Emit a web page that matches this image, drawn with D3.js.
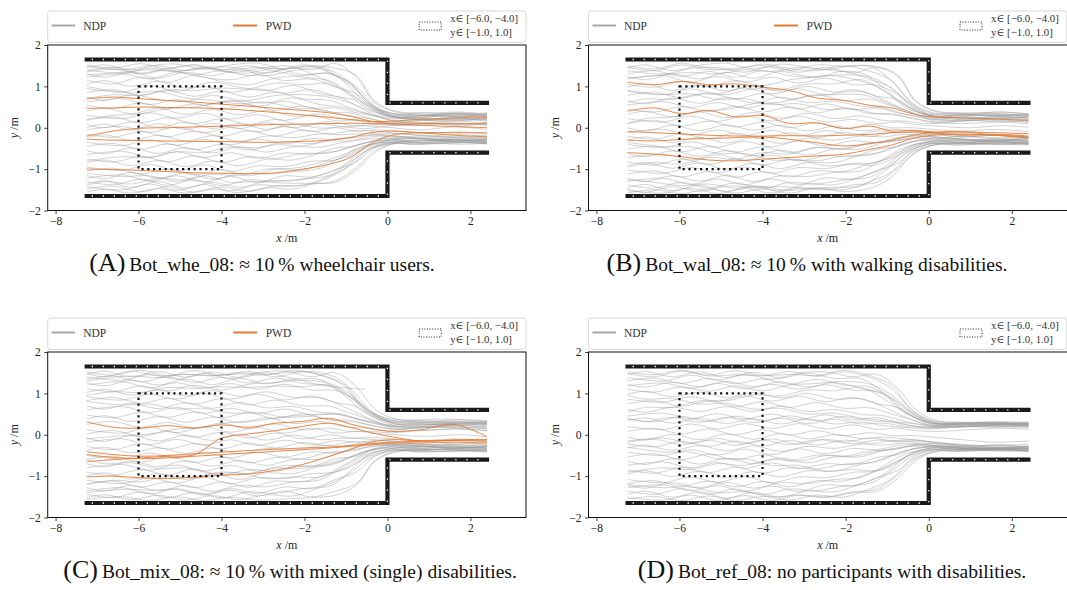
<!DOCTYPE html>
<html>
<head>
<meta charset="utf-8">
<script src="https://cdn.jsdelivr.net/npm/d3@7"></script>
<style>
  html, body { margin: 0; padding: 0; background: #fff; }
  svg { display: block; }
</style>
</head>
<body>
<svg id="fig" width="1067" height="590" font-family="Liberation Serif, DejaVu Serif, serif"></svg>
<script>
// x positions (m) at which the trajectories are sampled; the tracks were
// recorded on three staggered sampling grids (track i uses grid i % 3)
const stations  = [-7.25, -6.6, -5.95, -5.3, -4.65, -4.0, -3.35, -2.7, -2.05, -1.4, -0.9, -0.4, 0.1, 0.8, 1.6, 2.4];
const stations2 = [-7.25, -6.82, -6.17, -5.52, -4.87, -4.22, -3.57, -2.92, -2.27, -1.62, -1.1, -0.55, 0.0, 0.6, 1.4, 2.4];
const stations3 = [-7.25, -6.38, -5.73, -5.08, -4.43, -3.78, -3.13, -2.48, -1.83, -1.25, -0.75, -0.3, 0.2, 0.95, 1.75, 2.4];
const stationGrids = [stations, stations2, stations3];

// ---- Bot_whe_08 ----
const ndpA = [
  [1.52,1.44,1.55,1.42,1.53,1.40,1.50,1.38,1.52,1.40,1.10,0.56,0.35,0.30,0.34,0.31],
  [1.46,1.52,1.40,1.50,1.38,1.47,1.44,1.32,1.45,1.20,0.94,0.50,0.30,0.24,0.29,0.25],
  [1.40,1.32,1.44,1.36,1.46,1.34,1.42,1.50,1.40,1.55,1.22,0.60,0.38,0.30,0.35,0.30],
  [1.35,1.42,1.30,1.40,1.28,1.38,1.26,1.36,1.22,1.14,0.84,0.48,0.28,0.21,0.25,0.21],
  [1.30,1.22,1.33,1.20,1.34,1.26,1.40,1.26,1.38,1.44,1.16,0.62,0.36,0.34,0.27,0.32],
  [1.22,1.30,1.18,1.34,1.22,1.16,1.28,1.14,1.18,0.98,0.82,0.45,0.26,0.18,0.23,0.15],
  [1.15,1.06,1.22,1.10,1.26,1.12,1.04,1.20,1.26,1.30,1.04,0.57,0.32,0.28,0.36,0.28],
  [1.05,1.14,1.00,1.12,0.96,1.10,0.98,0.90,1.02,0.82,0.72,0.42,0.22,0.24,0.18,0.20],
  [0.95,0.86,1.02,0.88,1.00,0.86,0.94,0.84,0.92,0.76,0.66,0.40,0.24,0.30,0.27,0.34],
  [0.85,0.92,0.78,0.90,0.76,0.88,0.74,0.86,0.70,0.66,0.48,0.32,0.18,0.12,0.16,0.12],
  [0.75,0.66,0.80,0.68,0.64,0.78,0.66,0.60,0.72,0.56,0.50,0.35,0.25,0.22,0.30,0.25],
  [0.62,0.70,0.56,0.68,0.54,0.66,0.52,0.64,0.48,0.48,0.36,0.28,0.15,0.10,0.08,0.12],
  [0.55,0.46,0.60,0.46,0.58,0.44,0.56,0.42,0.52,0.38,0.36,0.22,0.12,0.18,0.22,0.18],
  [0.40,0.48,0.34,0.47,0.32,0.44,0.31,0.42,0.28,0.33,0.22,0.18,0.10,0.05,0.10,0.06],
  [0.30,0.22,0.36,0.23,0.35,0.21,0.32,0.18,0.30,0.17,0.18,0.10,0.06,0.12,0.05,0.10],
  [0.18,0.26,0.12,0.24,0.10,0.22,0.08,0.20,0.06,0.15,0.06,0.04,0.00,-0.05,0.02,-0.04],
  [0.08,0.00,0.14,0.01,0.13,-0.02,0.10,-0.04,0.08,-0.01,0.02,-0.02,0.04,0.08,0.12,0.08],
  [-0.05,0.03,-0.11,0.02,-0.12,0.01,-0.10,0.03,-0.09,0.00,-0.08,-0.05,-0.08,-0.14,-0.10,-0.16],
  [-0.15,-0.23,-0.09,-0.22,-0.08,-0.21,-0.07,-0.20,-0.06,-0.15,-0.08,-0.08,-0.12,-0.18,-0.22,-0.18],
  [-0.25,-0.17,-0.31,-0.18,-0.32,-0.19,-0.33,-0.20,-0.24,-0.15,-0.17,-0.14,-0.18,-0.24,-0.28,-0.30],
  [-0.35,-0.43,-0.29,-0.42,-0.28,-0.41,-0.27,-0.39,-0.26,-0.29,-0.20,-0.18,-0.22,-0.28,-0.24,-0.30],
  [-0.45,-0.38,-0.52,-0.39,-0.53,-0.40,-0.54,-0.41,-0.44,-0.32,-0.32,-0.22,-0.20,-0.25,-0.32,-0.28],
  [-0.55,-0.63,-0.49,-0.62,-0.48,-0.61,-0.47,-0.59,-0.46,-0.47,-0.36,-0.28,-0.25,-0.32,-0.28,-0.35],
  [-0.65,-0.57,-0.71,-0.58,-0.72,-0.60,-0.74,-0.61,-0.64,-0.49,-0.44,-0.30,-0.24,-0.20,-0.26,-0.22],
  [-0.75,-0.83,-0.69,-0.82,-0.68,-0.84,-0.70,-0.74,-0.62,-0.61,-0.46,-0.34,-0.30,-0.36,-0.30,-0.36],
  [-0.85,-0.78,-0.92,-0.79,-0.94,-0.80,-0.92,-0.76,-0.78,-0.62,-0.54,-0.36,-0.28,-0.25,-0.32,-0.28],
  [-0.95,-1.03,-0.89,-1.04,-0.90,-1.06,-0.92,-0.94,-0.81,-0.78,-0.56,-0.38,-0.32,-0.38,-0.34,-0.40],
  [-1.05,-0.98,-1.12,-0.99,-1.14,-1.01,-1.16,-1.00,-1.02,-0.82,-0.67,-0.42,-0.30,-0.26,-0.30,-0.25],
  [-1.15,-1.23,-1.08,-1.22,-1.09,-1.24,-1.11,-1.12,-1.06,-0.98,-0.70,-0.44,-0.35,-0.40,-0.36,-0.33],
  [-1.22,-1.14,-1.29,-1.16,-1.31,-1.18,-1.32,-1.16,-1.19,-1.02,-0.82,-0.48,-0.34,-0.30,-0.35,-0.38],
  [-1.30,-1.38,-1.24,-1.39,-1.26,-1.40,-1.26,-1.29,-1.24,-1.15,-0.83,-0.50,-0.38,-0.35,-0.30,-0.32],
  [-1.36,-1.28,-1.44,-1.30,-1.46,-1.32,-1.44,-1.29,-1.28,-1.15,-0.94,-0.52,-0.36,-0.40,-0.38,-0.35],
  [-1.42,-1.50,-1.36,-1.51,-1.37,-1.52,-1.38,-1.42,-1.36,-1.28,-0.96,-0.55,-0.38,-0.36,-0.40,-0.37],
  [-1.48,-1.41,-1.55,-1.42,-1.56,-1.43,-1.54,-1.40,-1.39,-1.17,-0.92,-0.50,-0.35,-0.32,-0.28,-0.34],
  [-1.55,-1.49,-1.58,-1.47,-1.58,-1.48,-1.57,-1.45,-1.48,-1.29,-1.04,-0.58,-0.40,-0.38,-0.34,-0.38],
  [1.48,1.40,1.50,1.54,1.41,1.52,1.56,1.42,1.48,1.26,1.00,0.52,0.33,0.28,0.31,0.27],
  [1.38,1.46,1.32,1.44,1.50,1.37,1.32,1.44,1.28,1.32,1.08,0.56,0.30,0.36,0.32,0.36],
  [0.00,0.09,-0.06,0.10,-0.04,0.11,-0.02,0.12,0.00,0.10,0.03,0.06,0.10,0.15,0.20,0.22],
  [-1.10,-1.18,-1.16,-1.30,-1.16,-1.32,-1.30,-1.34,-1.34,-1.32,-1.02,-0.60,-0.36,-0.30,-0.34,-0.30],
  [0.70,0.80,0.78,0.92,0.90,0.96,0.94,1.08,1.04,1.06,0.80,0.50,0.28,0.24,0.20,0.24],
  [1.00,0.92,0.84,0.88,0.72,0.66,0.58,0.62,0.48,0.44,0.32,0.24,0.14,0.20,0.16,0.22],
  [-0.80,-0.70,-0.72,-0.58,-0.60,-0.46,-0.48,-0.34,-0.38,-0.26,-0.24,-0.16,-0.14,-0.20,-0.16,-0.22],
  [0.20,0.30,0.34,0.46,0.50,0.62,0.66,0.78,0.80,0.74,0.60,0.40,0.26,0.30,0.34,0.30],
  [-1.40,-1.30,-1.36,-1.22,-1.26,-1.12,-1.16,-1.00,-0.98,-0.84,-0.66,-0.44,-0.30,-0.26,-0.22,-0.26],
  [1.28,1.34,1.40,1.36,1.44,1.40,1.46,1.42,1.50,1.44,1.26,0.64,0.40,0.36,0.38,0.34]
];
const pwdA = [
  [0.70,0.74,0.70,0.66,0.62,0.57,0.52,0.47,0.42,0.36,0.28,0.16,0.10,0.06,0.03,0.00],
  [0.47,0.48,0.50,0.49,0.48,0.46,0.42,0.37,0.31,0.25,0.20,0.15,0.16,0.20,0.24,0.26],
  [-0.20,-0.08,-0.01,0.00,0.02,0.04,0.06,0.08,0.09,0.10,0.11,0.10,0.09,0.10,0.10,0.10],
  [-0.28,-0.30,-0.31,-0.32,-0.33,-0.33,-0.35,-0.35,-0.33,-0.30,-0.24,-0.12,-0.08,-0.12,-0.18,-0.22],
  [-1.00,-1.01,-1.03,-1.06,-1.09,-1.10,-1.11,-1.09,-1.00,-0.88,-0.72,-0.38,-0.18,-0.12,-0.12,-0.12]
];

// ---- Bot_wal_08 ----
const ndpB = [
  [1.50,1.42,1.56,1.44,1.40,1.54,1.43,1.38,1.50,1.36,1.14,0.58,0.34,0.30,0.34,0.30],
  [1.44,1.52,1.38,1.51,1.56,1.42,1.54,1.46,1.38,1.32,0.98,0.52,0.30,0.26,0.22,0.27],
  [1.38,1.30,1.43,1.46,1.34,1.48,1.34,1.46,1.32,1.46,1.24,0.62,0.38,0.34,0.38,0.33],
  [1.30,1.38,1.24,1.36,1.22,1.38,1.26,1.22,1.36,1.16,0.96,0.50,0.28,0.22,0.27,0.24],
  [1.24,1.16,1.30,1.18,1.34,1.20,1.36,1.24,1.26,1.12,0.92,0.48,0.32,0.36,0.30,0.34],
  [1.18,1.26,1.10,1.24,1.10,1.22,1.08,1.20,1.04,1.03,0.80,0.46,0.26,0.20,0.24,0.20],
  [1.05,0.98,1.12,1.00,1.14,1.02,1.16,1.22,1.28,1.22,0.96,0.55,0.30,0.32,0.28,0.26],
  [0.98,1.06,0.90,1.03,0.89,1.02,0.88,1.00,0.86,0.88,0.68,0.42,0.24,0.28,0.32,0.29],
  [0.88,0.80,0.94,0.82,0.96,0.82,0.94,0.80,0.92,0.76,0.68,0.40,0.22,0.18,0.22,0.17],
  [0.78,0.86,0.72,0.84,0.70,0.83,0.68,0.80,0.66,0.69,0.53,0.36,0.20,0.26,0.22,0.26],
  [0.66,0.58,0.72,0.59,0.73,0.60,0.74,0.61,0.64,0.52,0.48,0.32,0.22,0.16,0.20,0.15],
  [0.55,0.63,0.49,0.61,0.47,0.59,0.46,0.58,0.44,0.48,0.36,0.28,0.16,0.22,0.26,0.22],
  [0.45,0.38,0.51,0.39,0.52,0.38,0.50,0.36,0.48,0.34,0.34,0.22,0.14,0.10,0.14,0.10],
  [0.32,0.40,0.26,0.38,0.24,0.37,0.23,0.35,0.22,0.29,0.18,0.16,0.10,0.14,0.18,0.13],
  [0.22,0.14,0.28,0.15,0.29,0.16,0.28,0.14,0.20,0.10,0.14,0.08,0.04,0.00,0.05,0.01],
  [0.10,0.18,0.04,0.16,0.02,0.14,0.00,0.12,-0.02,0.08,0.00,0.00,-0.04,-0.08,-0.04,-0.09],
  [0.00,-0.08,0.06,-0.07,0.07,-0.06,0.06,-0.08,0.04,-0.07,-0.03,-0.06,-0.10,-0.14,-0.18,-0.14],
  [-0.12,-0.04,-0.18,-0.05,-0.19,-0.06,-0.20,-0.07,-0.18,-0.08,-0.12,-0.10,-0.14,-0.20,-0.24,-0.21],
  [-0.20,-0.28,-0.14,-0.27,-0.13,-0.26,-0.12,-0.24,-0.11,-0.21,-0.12,-0.12,-0.16,-0.22,-0.18,-0.24],
  [-0.30,-0.22,-0.36,-0.23,-0.37,-0.24,-0.38,-0.25,-0.30,-0.20,-0.22,-0.16,-0.20,-0.26,-0.30,-0.27],
  [-0.40,-0.48,-0.34,-0.47,-0.33,-0.46,-0.32,-0.44,-0.31,-0.36,-0.24,-0.20,-0.24,-0.30,-0.26,-0.32],
  [-0.52,-0.44,-0.58,-0.45,-0.59,-0.46,-0.60,-0.47,-0.50,-0.36,-0.34,-0.24,-0.22,-0.28,-0.34,-0.30],
  [-0.62,-0.70,-0.56,-0.69,-0.55,-0.68,-0.54,-0.66,-0.52,-0.52,-0.36,-0.28,-0.26,-0.32,-0.28,-0.34],
  [-0.72,-0.64,-0.78,-0.65,-0.79,-0.66,-0.80,-0.68,-0.70,-0.52,-0.46,-0.31,-0.25,-0.22,-0.28,-0.24],
  [-0.82,-0.90,-0.76,-0.89,-0.75,-0.90,-0.76,-0.80,-0.68,-0.66,-0.48,-0.34,-0.30,-0.36,-0.32,-0.38],
  [-0.92,-0.84,-0.98,-0.85,-1.00,-0.86,-0.99,-0.84,-0.84,-0.66,-0.58,-0.37,-0.28,-0.26,-0.32,-0.27],
  [-1.02,-1.10,-0.96,-1.09,-0.95,-1.10,-0.96,-0.99,-0.86,-0.84,-0.60,-0.40,-0.33,-0.38,-0.35,-0.40],
  [-1.12,-1.04,-1.19,-1.06,-1.20,-1.06,-1.19,-1.04,-1.06,-0.86,-0.72,-0.43,-0.32,-0.28,-0.32,-0.26],
  [-1.22,-1.30,-1.16,-1.29,-1.15,-1.30,-1.16,-1.18,-1.08,-1.04,-0.76,-0.46,-0.36,-0.42,-0.38,-0.35],
  [-1.30,-1.22,-1.37,-1.24,-1.38,-1.24,-1.37,-1.21,-1.24,-1.04,-0.86,-0.50,-0.35,-0.32,-0.36,-0.40],
  [-1.38,-1.46,-1.32,-1.46,-1.33,-1.47,-1.32,-1.36,-1.26,-1.19,-0.88,-0.52,-0.38,-0.36,-0.32,-0.34],
  [-1.45,-1.37,-1.52,-1.39,-1.54,-1.40,-1.52,-1.36,-1.38,-1.18,-0.97,-0.55,-0.37,-0.41,-0.39,-0.36],
  [-1.52,-1.58,-1.46,-1.59,-1.47,-1.58,-1.46,-1.50,-1.38,-1.32,-0.98,-0.58,-0.40,-0.37,-0.41,-0.38],
  [-1.58,-1.50,-1.59,-1.48,-1.58,-1.48,-1.58,-1.46,-1.50,-1.30,-1.07,-0.60,-0.42,-0.38,-0.35,-0.39],
  [0.60,0.70,0.68,0.82,0.80,0.94,0.92,1.06,1.06,1.16,0.90,0.54,0.30,0.26,0.30,0.28],
  [-0.35,-0.46,-0.46,-0.62,-0.62,-0.78,-0.78,-0.92,-0.88,-0.90,-0.68,-0.44,-0.30,-0.34,-0.30,-0.32],
  [1.46,1.38,1.52,1.40,1.44,1.50,1.38,1.52,1.48,1.48,1.14,0.60,0.36,0.32,0.28,0.32],
  [-1.48,-1.56,-1.42,-1.54,-1.41,-1.44,-1.42,-1.46,-1.44,-1.40,-1.08,-0.62,-0.40,-0.36,-0.38,-0.42],
  [0.90,0.80,0.82,0.68,0.70,0.56,0.58,0.44,0.46,0.34,0.30,0.22,0.12,0.18,0.14,0.20],
  [-0.95,-0.84,-0.88,-0.72,-0.76,-0.60,-0.64,-0.48,-0.52,-0.38,-0.32,-0.20,-0.16,-0.22,-0.18,-0.24],
  [0.10,0.22,0.26,0.40,0.44,0.58,0.62,0.76,0.80,0.80,0.64,0.42,0.26,0.30,0.34,0.30],
  [1.20,1.28,1.34,1.30,1.40,1.36,1.46,1.40,1.50,1.48,1.28,0.64,0.40,0.36,0.38,0.34],
  [-1.25,-1.32,-1.40,-1.36,-1.46,-1.42,-1.52,-1.46,-1.54,-1.46,-1.20,-0.66,-0.42,-0.38,-0.40,-0.36]
];
const pwdB = [
  [1.10,1.04,1.12,1.04,1.06,0.98,0.90,0.72,0.66,0.54,0.48,0.34,0.26,0.24,0.21,0.18],
  [0.40,0.48,0.34,0.42,0.26,0.30,0.10,0.12,-0.02,0.04,-0.08,-0.06,-0.10,-0.10,-0.12,-0.14],
  [-0.09,-0.12,-0.15,-0.18,-0.20,-0.20,-0.19,-0.20,-0.18,-0.16,-0.12,-0.10,-0.12,-0.18,-0.16,-0.20],
  [-0.30,-0.32,-0.28,-0.26,-0.24,-0.22,-0.28,-0.36,-0.44,-0.38,-0.30,-0.18,-0.12,-0.10,-0.18,-0.25],
  [-0.60,-0.64,-0.70,-0.78,-0.80,-0.76,-0.72,-0.68,-0.64,-0.52,-0.42,-0.26,-0.18,-0.15,-0.18,-0.22]
];

// ---- Bot_mix_08 ----  (null: the trajectory has ended)
const ndpC = [
  [1.52,1.44,1.56,1.43,1.55,1.44,1.53,1.40,1.52,1.38,1.12,0.58,0.35,0.30,0.33,0.30],
  [1.46,1.54,1.40,1.53,1.39,1.52,1.38,1.50,1.36,1.33,1.00,0.54,0.32,0.28,0.24,0.28],
  [1.40,1.32,1.46,1.34,1.48,1.36,1.50,1.54,1.40,1.50,1.16,0.62,0.38,0.33,0.36,0.32],
  [1.34,1.42,1.28,1.40,1.26,1.39,1.25,1.37,1.24,1.18,0.90,0.50,0.28,0.24,0.28,0.25],
  [1.26,1.18,1.32,1.20,1.34,1.21,1.36,1.23,1.34,1.20,1.14,1.10,null,null,null,null],
  [1.20,1.28,1.13,1.26,1.12,1.24,1.10,1.22,1.08,1.07,0.83,0.46,0.26,0.20,0.24,0.18],
  [1.12,1.04,1.18,1.06,1.20,1.08,1.22,1.26,1.32,1.24,0.98,0.56,0.32,0.34,0.28,0.30],
  [1.02,1.10,0.96,1.08,0.94,1.07,0.93,1.04,0.90,0.89,0.70,0.44,0.24,0.28,0.32,0.28],
  [0.92,0.84,0.98,0.86,1.00,0.86,0.98,0.84,0.94,0.78,0.68,0.40,0.22,0.18,0.22,0.17],
  [0.82,0.90,0.76,0.88,0.74,0.87,0.72,0.84,0.70,0.69,0.52,0.36,0.20,0.26,0.22,0.27],
  [0.70,0.62,0.76,0.63,0.77,0.64,0.78,0.65,0.68,0.54,0.50,0.32,0.22,0.16,0.20,0.15],
  [0.60,0.68,0.54,0.66,0.52,0.64,0.51,0.62,0.48,0.50,0.38,0.28,0.16,0.22,0.26,0.22],
  [0.48,0.41,0.54,0.42,0.55,0.41,0.53,0.39,0.51,0.36,0.35,0.22,0.14,0.10,0.14,0.10],
  [0.38,0.46,0.32,0.44,0.30,0.43,0.29,0.41,0.27,0.32,0.20,0.16,0.10,0.15,0.18,0.14],
  [0.12,0.04,0.18,0.05,0.19,0.06,0.18,0.04,0.16,0.04,0.08,0.04,0.00,-0.04,0.00,-0.05],
  [0.02,0.10,-0.04,0.08,-0.06,0.06,-0.08,0.04,-0.10,0.00,-0.08,-0.06,-0.10,-0.14,-0.10,-0.15],
  [-0.08,-0.16,-0.02,-0.15,-0.01,-0.14,0.00,-0.13,-0.01,-0.12,-0.08,-0.10,-0.14,-0.20,-0.24,-0.20],
  [-0.18,-0.10,-0.24,-0.11,-0.25,-0.12,-0.26,-0.13,-0.24,-0.14,-0.18,-0.14,-0.18,-0.24,-0.20,-0.26],
  [-0.28,-0.36,-0.22,-0.35,-0.21,-0.34,-0.20,-0.32,-0.19,-0.26,-0.18,-0.18,-0.22,-0.28,-0.32,-0.28],
  [-0.38,-0.30,-0.44,-0.31,-0.45,-0.32,-0.46,-0.33,-0.38,-0.26,-0.28,-0.20,-0.24,-0.30,-0.26,-0.32],
  [-0.50,-0.58,-0.44,-0.57,-0.43,-0.56,-0.42,-0.54,-0.41,-0.44,-0.30,-0.24,-0.22,-0.28,-0.34,-0.30],
  [-0.60,-0.52,-0.66,-0.53,-0.67,-0.54,-0.68,-0.55,-0.58,-0.42,-0.40,-0.28,-0.26,-0.32,-0.28,-0.34],
  [-0.70,-0.78,-0.64,-0.77,-0.63,-0.76,-0.62,-0.74,-0.60,-0.59,-0.42,-0.31,-0.25,-0.22,-0.28,-0.24],
  [-0.80,-0.72,-0.86,-0.73,-0.88,-0.74,-0.88,-0.74,-0.76,-0.58,-0.52,-0.34,-0.30,-0.36,-0.32,-0.38],
  [-0.90,-0.98,-0.84,-0.97,-0.83,-0.98,-0.84,-0.88,-0.76,-0.74,-0.54,-0.37,-0.28,-0.26,-0.32,-0.27],
  [-1.00,-0.92,-1.07,-0.94,-1.08,-0.94,-1.08,-0.92,-0.94,-0.76,-0.64,-0.40,-0.33,-0.38,-0.35,-0.40],
  [-1.10,-1.18,-1.04,-1.17,-1.03,-1.18,-1.04,-1.06,-0.94,-0.90,-0.66,-0.43,-0.32,-0.28,-0.32,-0.26],
  [-1.20,-1.12,-1.27,-1.14,-1.28,-1.14,-1.27,-1.12,-1.14,-0.94,-0.78,-0.46,-0.36,-0.42,-0.38,-0.35],
  [-1.28,-1.36,-1.22,-1.36,-1.23,-1.37,-1.22,-1.26,-1.14,-1.09,-0.80,-0.50,-0.35,-0.32,-0.36,-0.40],
  [-1.36,-1.28,-1.43,-1.30,-1.44,-1.30,-1.42,-1.26,-1.30,-1.08,-0.90,-0.52,-0.38,-0.36,-0.32,-0.34],
  [-1.44,-1.52,-1.38,-1.52,-1.39,-1.53,-1.38,-1.42,-1.30,-1.24,-0.92,-0.55,-0.37,-0.41,-0.39,-0.36],
  [-1.52,-1.45,-1.57,-1.46,-1.58,-1.47,-1.57,-1.45,-1.48,-1.27,-1.04,-0.58,-0.40,-0.37,-0.41,-0.38],
  [-1.56,-1.50,-1.59,-1.50,-1.59,-1.51,-1.58,-1.55,-1.52,-1.46,-1.22,-0.64,-0.42,-0.38,-0.35,-0.39],
  [0.25,0.32,0.18,0.30,0.16,0.28,0.14,0.26,0.12,0.16,0.08,0.08,0.05,0.10,0.14,0.10],
  [1.48,1.40,1.54,1.42,1.46,1.43,1.47,1.44,1.56,1.44,1.22,0.60,0.36,0.32,0.28,0.32],
  [-1.40,-1.32,-1.34,-1.32,-1.46,-1.34,-1.48,-1.36,-1.50,-1.36,-1.18,-0.62,-0.40,-0.36,-0.38,-0.42],
  [0.95,1.04,1.02,1.14,1.12,1.16,1.14,1.18,1.16,1.20,0.93,0.54,0.30,0.26,0.30,0.28],
  [-0.60,-0.70,-0.68,-0.82,-0.80,-0.94,-0.92,-1.06,-1.02,-1.02,-0.76,-0.46,-0.30,-0.34,-0.30,-0.32],
  [0.80,0.72,0.74,0.62,0.64,0.52,0.54,0.42,0.44,0.34,0.30,0.22,0.14,0.20,0.16,0.22],
  [-1.20,-1.10,-1.14,-1.00,-1.04,-0.90,-0.94,-0.80,-0.82,-0.68,-0.54,-0.36,-0.24,-0.28,-0.24,-0.30],
  [1.30,1.36,1.42,1.38,1.46,1.42,1.50,1.46,1.52,1.50,1.30,0.64,0.40,0.36,0.38,0.34],
  [-0.10,-0.02,0.02,0.14,0.18,0.30,0.34,0.44,0.48,0.50,0.40,0.30,0.20,0.24,0.28,0.24]
];
const pwdC = [
  [0.31,0.18,0.16,0.22,0.16,0.24,0.18,0.28,0.32,0.40,0.26,0.15,0.08,0.12,0.25,-0.05],
  [-0.41,-0.48,-0.52,-0.50,-0.46,-0.42,-0.38,-0.35,-0.32,-0.30,-0.26,-0.22,-0.18,-0.16,-0.14,-0.12],
  [-0.65,-0.60,-0.56,-0.52,-0.48,-0.08,0.02,0.10,0.20,0.28,0.18,0.05,-0.05,-0.15,-0.12,-0.12],
  [-1.02,-1.00,-1.04,-1.06,-1.02,-0.98,-0.95,-0.86,-0.72,-0.52,-0.36,-0.18,-0.12,-0.15,-0.14,-0.16],
  [-0.48,-0.55,-0.58,-0.56,-0.52,-0.48,-0.44,-0.40,-0.36,-0.32,-0.28,-0.24,-0.20,-0.20,-0.18,-0.20]
];

// ---- Bot_ref_08 ----
const ndpD = [
  [1.52,1.45,1.56,1.44,1.55,1.43,1.53,1.41,1.52,1.38,1.12,0.58,0.32,0.28,0.30,0.27],
  [1.45,1.53,1.40,1.52,1.38,1.51,1.37,1.49,1.36,1.35,1.03,0.55,0.30,0.26,0.24,0.26],
  [1.38,1.30,1.44,1.32,1.46,1.34,1.49,1.52,1.40,1.46,1.13,0.60,0.34,0.30,0.32,0.29],
  [1.30,1.37,1.24,1.36,1.23,1.35,1.22,1.34,1.20,1.15,0.88,0.50,0.28,0.24,0.26,0.23],
  [1.22,1.15,1.27,1.16,1.29,1.16,1.28,1.15,1.26,1.12,0.97,0.52,0.30,0.27,0.30,0.26],
  [1.18,1.25,1.12,1.24,1.11,1.22,1.10,1.21,1.08,1.05,0.80,0.46,0.26,0.22,0.25,0.21],
  [1.10,1.03,1.16,1.05,1.18,1.06,1.20,1.24,1.29,1.22,0.96,0.54,0.30,0.28,0.26,0.29],
  [0.98,1.05,0.92,1.03,0.90,1.02,0.89,1.00,0.86,0.87,0.68,0.42,0.24,0.26,0.29,0.25],
  [0.86,0.79,0.92,0.81,0.94,0.81,0.93,0.80,0.90,0.75,0.66,0.40,0.22,0.20,0.24,0.21],
  [0.75,0.82,0.69,0.81,0.68,0.80,0.66,0.78,0.64,0.65,0.50,0.36,0.22,0.26,0.23,0.27],
  [0.62,0.54,0.67,0.56,0.68,0.56,0.69,0.56,0.61,0.49,0.46,0.32,0.22,0.18,0.21,0.17],
  [0.45,0.52,0.39,0.51,0.38,0.50,0.37,0.48,0.36,0.41,0.31,0.26,0.18,0.22,0.25,0.22],
  [0.38,0.31,0.44,0.32,0.45,0.33,0.46,0.34,0.44,0.33,0.32,0.22,0.16,0.20,0.18,0.22],
  [0.34,0.41,0.28,0.40,0.27,0.39,0.26,0.38,0.26,0.31,0.22,0.18,0.14,0.18,0.22,0.19],
  [0.20,0.13,0.26,0.14,0.27,0.15,0.27,0.14,0.24,0.13,0.16,0.10,0.08,0.12,0.16,0.13],
  [0.08,0.15,0.02,0.14,0.00,0.12,-0.01,0.10,-0.02,0.05,-0.02,-0.02,-0.06,-0.12,-0.18,-0.15],
  [-0.05,-0.13,0.01,-0.12,0.02,-0.11,0.03,-0.10,0.00,-0.09,-0.06,-0.10,-0.16,-0.22,-0.26,-0.23],
  [-0.15,-0.08,-0.21,-0.09,-0.22,-0.10,-0.23,-0.11,-0.22,-0.13,-0.17,-0.14,-0.20,-0.26,-0.30,-0.28],
  [-0.22,-0.29,-0.16,-0.28,-0.15,-0.27,-0.14,-0.25,-0.13,-0.21,-0.15,-0.17,-0.22,-0.28,-0.25,-0.30],
  [-0.32,-0.25,-0.38,-0.26,-0.39,-0.27,-0.40,-0.28,-0.33,-0.23,-0.25,-0.20,-0.25,-0.31,-0.35,-0.32],
  [-0.42,-0.50,-0.36,-0.49,-0.35,-0.48,-0.34,-0.46,-0.33,-0.36,-0.26,-0.23,-0.27,-0.33,-0.30,-0.35],
  [-0.54,-0.46,-0.60,-0.47,-0.61,-0.48,-0.62,-0.49,-0.52,-0.39,-0.36,-0.26,-0.26,-0.32,-0.37,-0.33],
  [-0.64,-0.72,-0.58,-0.71,-0.57,-0.70,-0.56,-0.68,-0.54,-0.53,-0.38,-0.29,-0.28,-0.34,-0.31,-0.37],
  [-0.74,-0.66,-0.80,-0.67,-0.81,-0.68,-0.82,-0.70,-0.72,-0.55,-0.48,-0.32,-0.27,-0.30,-0.34,-0.30],
  [-0.85,-0.93,-0.79,-0.92,-0.78,-0.93,-0.79,-0.83,-0.71,-0.68,-0.50,-0.35,-0.30,-0.36,-0.33,-0.39],
  [-0.95,-0.87,-1.01,-0.88,-1.03,-0.89,-1.02,-0.87,-0.88,-0.71,-0.60,-0.38,-0.30,-0.28,-0.33,-0.29],
  [-1.08,-1.16,-1.02,-1.15,-1.01,-1.16,-1.02,-1.04,-0.91,-0.87,-0.63,-0.41,-0.33,-0.38,-0.35,-0.40],
  [-1.18,-1.11,-1.24,-1.12,-1.26,-1.13,-1.26,-1.11,-1.12,-0.92,-0.76,-0.44,-0.32,-0.30,-0.34,-0.29],
  [-1.22,-1.29,-1.16,-1.28,-1.15,-1.29,-1.16,-1.18,-1.08,-1.03,-0.76,-0.46,-0.35,-0.40,-0.37,-0.34],
  [-1.28,-1.21,-1.35,-1.23,-1.37,-1.24,-1.37,-1.21,-1.24,-1.04,-0.86,-0.50,-0.35,-0.32,-0.36,-0.40],
  [-1.36,-1.44,-1.30,-1.44,-1.31,-1.45,-1.31,-1.35,-1.24,-1.17,-0.88,-0.52,-0.37,-0.35,-0.32,-0.34],
  [-1.44,-1.36,-1.51,-1.38,-1.53,-1.39,-1.51,-1.36,-1.38,-1.18,-0.97,-0.55,-0.37,-0.40,-0.38,-0.36],
  [-1.52,-1.58,-1.46,-1.59,-1.47,-1.59,-1.46,-1.50,-1.38,-1.31,-0.98,-0.58,-0.39,-0.36,-0.40,-0.37],
  [-1.56,-1.49,-1.59,-1.48,-1.59,-1.49,-1.58,-1.46,-1.51,-1.30,-1.07,-0.60,-0.41,-0.38,-0.35,-0.38],
  [0.55,0.66,0.66,0.82,0.82,0.96,0.94,1.08,1.06,1.14,0.88,0.52,0.28,0.25,0.28,0.26],
  [-0.30,-0.42,-0.42,-0.58,-0.58,-0.74,-0.74,-0.88,-0.84,-0.86,-0.64,-0.42,-0.30,-0.34,-0.31,-0.33],
  [1.48,1.40,1.54,1.42,1.45,1.42,1.46,1.43,1.56,1.42,1.20,0.60,0.34,0.30,0.27,0.31],
  [0.40,0.32,0.42,0.30,0.42,0.29,0.40,0.27,0.37,0.26,0.28,0.20,0.18,0.24,0.28,0.25],
  [-1.20,-1.28,-1.26,-1.40,-1.38,-1.50,-1.46,-1.52,-1.40,-1.36,-1.06,-0.62,-0.40,-0.36,-0.38,-0.41],
  [-0.18,-0.11,-0.24,-0.13,-0.26,-0.13,-0.24,-0.12,-0.18,-0.08,-0.14,-0.12,-0.18,-0.25,-0.30,-0.27],
  [0.95,0.86,0.88,0.74,0.76,0.62,0.64,0.50,0.52,0.40,0.34,0.24,0.18,0.22,0.20,0.24],
  [-0.90,-0.80,-0.84,-0.70,-0.74,-0.60,-0.64,-0.50,-0.52,-0.40,-0.34,-0.24,-0.22,-0.28,-0.24,-0.30]
];
const pwdD = [];

// Geometry of the bottleneck set-up (m)
const wallTop = [[-7.25, 1.65], [0, 1.65], [0, 0.6], [2.4, 0.6]];
const wallBottom = [[-7.25, -1.65], [0, -1.65], [0, -0.6], [2.4, -0.6]];
const regionX = [-6.0, -4.0];
const regionY = [-1.0, 1.0];

// Axes
const xDomain = [-8.19, 3.34];
const yDomain = [-2, 2];
const xTicks = [-8, -6, -4, -2, 0, 2];
const yTicks = [-2, -1, 0, 1, 2];

// Legend and captions
const legendLabels = ["NDP", "PWD"];
const regionLabel = ["x\u2208 [\u22126.0, \u22124.0]", "y\u2208 [\u22121.0, 1.0]"];
const captionTags = ["(A)", "(B)", "(C)", "(D)"];
const captionTexts = [
  "Bot_whe_08: \u2248 10\u2009% wheelchair users.",
  "Bot_wal_08: \u2248 10\u2009% with walking disabilities.",
  "Bot_mix_08: \u2248 10\u2009% with mixed (single) disabilities.",
  "Bot_ref_08: no participants with disabilities."
];

const SERIF = "Liberation Serif, DejaVu Serif, serif";
const GRAY = "#9a9a9a";
const ORANGE = "#e27a34";
const AX_W = 526.0 - 47.7;

const panels = [
  { left: 47.7,  right: 526.0,  top: 45,  bottom: 210.5, ndp: ndpA, pwd: pwdA, capX: 262, capY: 271 },
  { left: 588.5, right: 1067.5, top: 45,  bottom: 210.5, ndp: ndpB, pwd: pwdB, capX: 807, capY: 271 },
  { left: 47.7,  right: 526.0,  top: 352, bottom: 517.5, ndp: ndpC, pwd: pwdC, capX: 290, capY: 578 },
  { left: 588.5, right: 1067.5, top: 352, bottom: 517.5, ndp: ndpD, pwd: pwdD, capX: 832, capY: 578 }
];

const svg = d3.select("#fig");
const minus = v => (v < 0 ? "\u2212" + Math.abs(v) : String(v));

panels.forEach((p, i) => {
  const x = d3.scaleLinear().domain(xDomain).range([p.left, p.right]);
  const y = d3.scaleLinear().domain(yDomain).range([p.bottom, p.top]);
  const g = svg.append("g");

  const clipId = "clip" + i;
  svg.append("clipPath").attr("id", clipId)
    .append("rect").attr("x", p.left).attr("y", p.top)
    .attr("width", p.right - p.left).attr("height", p.bottom - p.top);

  const line = d3.line()
    .defined(d => d[1] != null)
    .x(d => x(d[0])).y(d => y(d[1]))
    .curve(d3.curveCatmullRom.alpha(0.5));
  const toPts = (row, grid) => row.map((v, k) => [grid[k], v]);

  const plot = g.append("g").attr("clip-path", `url(#${clipId})`);

  plot.append("g").selectAll("path").data(p.ndp).join("path")
    .attr("d", (r, k) => line(toPts(r, stationGrids[k % 3])))
    .attr("fill", "none").attr("stroke", GRAY)
    .attr("stroke-width", 0.8).attr("stroke-opacity", 0.55);

  plot.append("g").selectAll("path").data(p.pwd).join("path")
    .attr("d", r => line(toPts(r, stations)))
    .attr("fill", "none").attr("stroke", ORANGE)
    .attr("stroke-width", 1.0).attr("stroke-opacity", 0.9);

  // measurement region
  plot.append("rect")
    .attr("x", x(regionX[0])).attr("y", y(regionY[1]))
    .attr("width", x(regionX[1]) - x(regionX[0]))
    .attr("height", y(regionY[0]) - y(regionY[1]))
    .attr("fill", "none").attr("stroke", "#111")
    .attr("stroke-width", 2.2).attr("stroke-dasharray", "2.2 3.6");

  // walls: thick black with small white dots
  const wl = d3.line().x(d => x(d[0])).y(d => y(d[1]));
  [wallTop, wallBottom].forEach(w => {
    plot.append("path").attr("d", wl(w)).attr("fill", "none")
      .attr("stroke", "#1a1a1a").attr("stroke-width", 4.2)
      .attr("stroke-linejoin", "miter").attr("stroke-linecap", "square");
    plot.append("path").attr("d", wl(w)).attr("fill", "none")
      .attr("stroke", "#fff").attr("stroke-width", 1.3)
      .attr("stroke-dasharray", "1.3 9.7").attr("stroke-dashoffset", -5);
  });

  // axes
  const xa = g.append("g").attr("transform", `translate(0,${p.bottom})`)
    .call(d3.axisBottom(x).tickValues(xTicks).tickFormat(minus)
      .tickSize(3.5).tickSizeOuter(0).tickPadding(3));
  const ya = g.append("g").attr("transform", `translate(${p.left},0)`)
    .call(d3.axisLeft(y).tickValues(yTicks).tickFormat(minus)
      .tickSize(3.5).tickSizeOuter(0).tickPadding(3.5));
  [xa, ya].forEach(a => {
    a.attr("font-family", SERIF);
    a.select(".domain").remove();
    a.selectAll(".tick line").attr("stroke", "#111").attr("stroke-width", 0.8);
    a.selectAll(".tick text").attr("fill", "#222").attr("font-size", 11.5)
      .attr("font-family", SERIF);
  });

  g.append("rect").attr("x", p.left).attr("y", p.top)
    .attr("width", p.right - p.left).attr("height", p.bottom - p.top)
    .attr("fill", "none").attr("stroke", "#111").attr("stroke-width", 1);

  // axis titles
  const xl = g.append("text").attr("x", p.left + AX_W / 2)
    .attr("y", p.bottom + 31).attr("text-anchor", "middle")
    .attr("font-family", SERIF).attr("font-size", 12).attr("fill", "#222");
  xl.append("tspan").attr("font-style", "italic").text("x");
  xl.append("tspan").text(" /m");

  const yl = g.append("text")
    .attr("transform", `translate(${p.left - 30},${(p.top + p.bottom) / 2}) rotate(-90)`)
    .attr("text-anchor", "middle").attr("font-family", SERIF)
    .attr("font-size", 12).attr("fill", "#222");
  yl.append("tspan").attr("font-style", "italic").text("y");
  yl.append("tspan").text(" /m");

  // legend
  const lt = p.top - 34;
  const lg = g.append("g").attr("font-family", SERIF);
  lg.append("rect").attr("x", p.left).attr("y", lt)
    .attr("width", AX_W).attr("height", 31.3).attr("rx", 2.5)
    .attr("fill", "#fff").attr("stroke", "#d8d8d8").attr("stroke-width", 1);
  lg.append("line").attr("x1", p.left + 4).attr("x2", p.left + 27.5)
    .attr("y1", lt + 14.5).attr("y2", lt + 14.5)
    .attr("stroke", "#a9a9a9").attr("stroke-width", 2);
  lg.append("text").attr("x", p.left + 35.5).attr("y", lt + 18.5)
    .attr("font-size", 11.5).attr("fill", "#333").text(legendLabels[0]);
  if (p.pwd.length) {
    lg.append("line").attr("x1", p.left + 185.5).attr("x2", p.left + 209.5)
      .attr("y1", lt + 14.5).attr("y2", lt + 14.5)
      .attr("stroke", ORANGE).attr("stroke-width", 2);
    lg.append("text").attr("x", p.left + 218).attr("y", lt + 18.5)
      .attr("font-size", 11.5).attr("fill", "#333").text(legendLabels[1]);
  }
  lg.append("rect").attr("x", p.left + 371.5).attr("y", lt + 11)
    .attr("width", 22).attr("height", 8)
    .attr("fill", "none").attr("stroke", "#222").attr("stroke-width", 1)
    .attr("stroke-dasharray", "1 1.6");
  regionLabel.forEach((t, k) => {
    lg.append("text").attr("x", p.left + 402.5).attr("y", lt + 11 + k * 14)
      .attr("font-size", 10.8).attr("fill", "#333").text(t);
  });

  // caption
  const cap = svg.append("text").attr("x", p.capX).attr("y", p.capY)
    .attr("text-anchor", "middle").attr("fill", "#111").attr("font-family", SERIF);
  cap.append("tspan").attr("font-size", 26).text(captionTags[i]);
  cap.append("tspan").attr("font-size", 19.5).attr("dx", 4).text(captionTexts[i]);
});
</script>
</body>
</html>
